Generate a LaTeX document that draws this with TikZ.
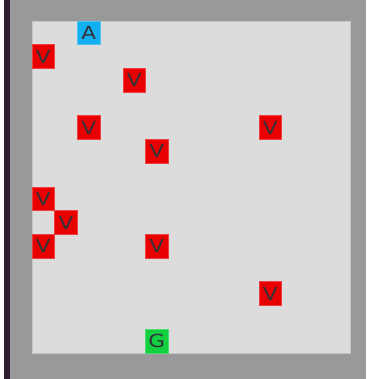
\documentclass[tikz,border=0pt]{standalone}
\usepackage{graphicx}
\usepackage{fontspec}
\setsansfont{DejaVu Sans}
\usetikzlibrary{positioning}
\definecolor{frame}{RGB}{153,153,153}
\definecolor{board}{RGB}{220,220,220}
\definecolor{edge}{RGB}{44,28,44}
\definecolor{wall}{RGB}{232,0,0}
\definecolor{agent}{RGB}{18,176,240}
\definecolor{goal}{RGB}{18,208,64}
\definecolor{ink}{RGB}{50,50,56}
\tikzset{
  cell/.style={fill=#1,draw=#1!75!white,line width=0.6pt,inner sep=0pt,
    minimum width=22.7pt,minimum height=23.7pt,text=ink,
    font=\sffamily\fontsize{18}{18}\selectfont},
  cell/.default=wall,
}

\begin{document}
\begin{tikzpicture}[x=1pt,y=-1pt]
  \useasboundingbox (0,0) rectangle (366,379);
  % frame and board
  \fill[edge] (4,0) rectangle (10,379);
  \fill[frame] (10,0) rectangle (366,379);
  \fill[board,draw=board!90!black,line width=0.5pt] (32,21) rectangle (350,353);
  % walls
  \foreach \c/\r [count=\i] in {0/1,4/2,2/4,10/4,5/5,0/7,1/8,0/9,5/9,10/11}
    \node[cell] (v\i) at ({32+22.7*(\c+0.5)},{21+23.7*(\r+0.5)}) {\scalebox{1.2}[1]{V}};
  \node[cell=agent] (start) at ({32+22.7*2.5},{21+23.7*0.5}) {\scalebox{1.2}[1]{A}};
  \node[cell=goal] (finish) at ({32+22.7*5.5},{21+23.7*13.5}) {\scalebox{1.2}[1]{G}};
\end{tikzpicture}
\end{document}
